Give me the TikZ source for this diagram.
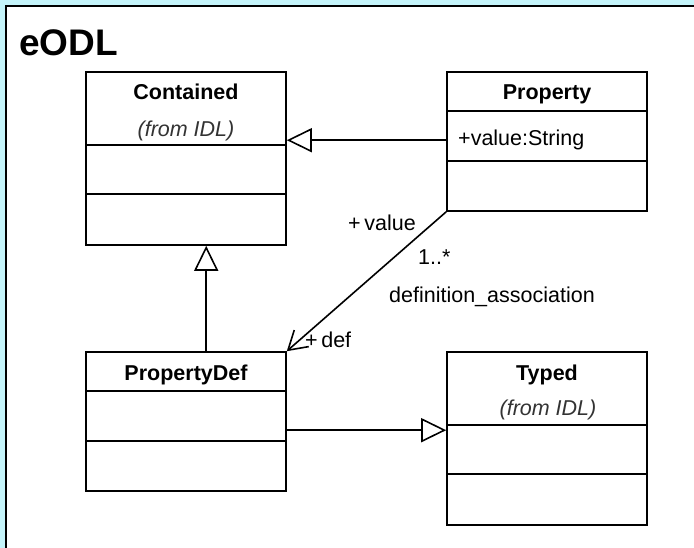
\documentclass[tikz,border=0pt]{standalone}
\usepackage{fontspec}
\setmainfont{Liberation Sans}
\usetikzlibrary{arrows.meta,calc}
\definecolor{bgcyan}{RGB}{196,244,250}
\tikzset{
  classbox/.style={draw, line width=1.6pt, minimum width=200pt, inner sep=0pt, fill=white},
  ln/.style={line width=1.6pt},
  gen/.style={ln, -{Triangle[open,length=25pt,width=24pt,fill=white,line width=1.6pt]}},
  assoc/.style={ln, -{Straight Barb[length=18pt,width=22pt,line width=1.6pt]}},
  lbl/.style={anchor=base west, inner sep=0pt, font=\fontsize{21.5}{24}\selectfont},
  ctitle/.style={anchor=base, inner sep=0pt, font=\fontsize{21.5}{24}\selectfont\bfseries},
  cfrom/.style={anchor=base, inner sep=0pt, font=\fontsize{21.5}{24}\selectfont\itshape, text=black!80},
}
\begin{document}
\begin{tikzpicture}[x=1pt,y=-1pt]
\useasboundingbox (0,0) rectangle (694,548);
\clip (0,0) rectangle (694,548);
\fill[bgcyan] (0,0) rectangle (694,548);
\draw[line width=2.6pt, fill=white] (6,6) rectangle (720,580);
\node[anchor=base west, inner sep=0pt, font=\fontsize{37}{40}\selectfont\bfseries] (title) at (19,56) {eODL};

% classes
\node[classbox, minimum height=173pt] (contained) at (186,158.5) {};
\node[classbox, minimum height=139pt] (property) at (547,141.5) {};
\node[classbox, minimum height=139pt] (propdef) at (186,421.5) {};
\node[classbox, minimum height=173pt] (typed) at (547,438.5) {};

% compartments
\draw[ln] ($(contained.north west)+(0,74)$) -- ($(contained.north east)+(0,74)$);
\draw[ln] ($(contained.north west)+(0,123)$) -- ($(contained.north east)+(0,123)$);
\draw[ln] ($(property.north west)+(0,40)$) -- ($(property.north east)+(0,40)$);
\draw[ln] ($(property.north west)+(0,90)$) -- ($(property.north east)+(0,90)$);
\draw[ln] ($(propdef.north west)+(0,40)$) -- ($(propdef.north east)+(0,40)$);
\draw[ln] ($(propdef.north west)+(0,90)$) -- ($(propdef.north east)+(0,90)$);
\draw[ln] ($(typed.north west)+(0,74)$) -- ($(typed.north east)+(0,74)$);
\draw[ln] ($(typed.north west)+(0,123)$) -- ($(typed.north east)+(0,123)$);

% texts in classes
\node[ctitle] (tcont) at (186,100) {Contained};
\node[cfrom] (fcont) at (186,137) {(from IDL)};
\node[ctitle] (tprop) at (547,100) {Property};
\node[lbl] (aprop) at (458,146) {+value:String};
\node[ctitle] (tpdef) at (186,380) {PropertyDef};
\node[ctitle] (ttyp) at (547,380) {Typed};
\node[cfrom] (ftyp) at (548,415) {(from IDL)};

% generalizations
\path (property.north west) ++(0,69) coordinate (g0s);
\draw[gen] (g0s) -- (g0s -| contained.east);
\path (propdef.north west) ++(121,0) coordinate (g1s);
\draw[gen] (g1s) -- (g1s |- contained.south);
\path (propdef.north east) ++(0,79) coordinate (g2s);
\draw[gen] (g2s) -- (g2s -| typed.west);

% association
\draw[assoc] (property.south west) -- (propdef.north east);
\node[lbl] (lval) at (348,231) {+\,value};
\node[lbl] (lmul) at (418,265) {1..*};
\node[lbl] (lname) at (389,302) {definition\_association};
\node[lbl] (ldef) at (305,347) {+\,def};
\end{tikzpicture}
\end{document}
